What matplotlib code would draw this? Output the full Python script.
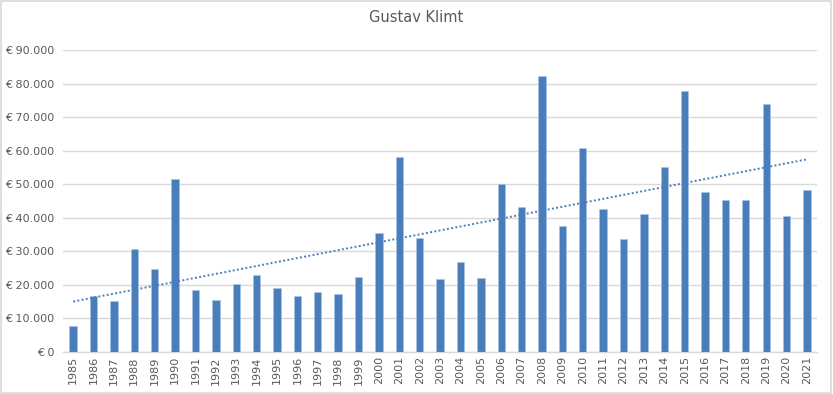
import numpy as np
import matplotlib.pyplot as plt
from matplotlib.ticker import FuncFormatter
import matplotlib.patches as patches

years = list(range(1985, 2022))
prices = [
    7800, 16800, 15100, 30800, 24600, 51700, 18400, 15600, 20200, 22900,
    19000, 16800, 17900, 17200, 22300, 35600, 58200, 33900, 21800, 26700,
    22200, 50200, 43100, 82400, 37700, 60800, 42500, 33600, 41100, 55100,
    77900, 47700, 45200, 45200, 73900, 40400, 48300,
]
title = "Gustav Klimt"

bar_color = "#4A7EBB"
grid_color = "#D9D9D9"
text_color = "#595959"


def euro(v, pos):
    # Excel-achtige notatie: € 90.000
    return "€ " + f"{int(v):,}".replace(",", ".")


fig = plt.figure(figsize=(8.33, 3.94), dpi=100)
ax = fig.add_axes([0.0756, 0.1066, 0.9054, 0.7664])

x = np.arange(len(years))
ax.bar(x, prices, width=0.36, color=bar_color, edgecolor="#A9C4E8", linewidth=0.4, zorder=3)

# lineaire trendlijn
coef = np.polyfit(x, prices, 1)
trend = np.polyval(coef, x)
ax.plot(x, trend, linestyle=(0, (1, 1.2)), color=bar_color, linewidth=1.4, zorder=4)

ax.set_xlim(-0.5, len(years) - 0.5)
ax.set_ylim(0, 90000)
ax.set_yticks(range(0, 90001, 10000))
ax.yaxis.set_major_formatter(FuncFormatter(euro))
ax.set_xticks(x)
ax.set_xticklabels([str(y) for y in years], rotation=90)
ax.tick_params(axis="both", length=0, labelsize=8, colors=text_color)
ax.tick_params(axis="y", pad=6)
ax.tick_params(axis="x", pad=3)

ax.grid(axis="y", color=grid_color, linewidth=1, zorder=0)
for side in ["top", "right", "left"]:
    ax.spines[side].set_visible(False)
ax.spines["bottom"].set_color(grid_color)
ax.spines["bottom"].set_linewidth(1)

fig.text(0.5, 0.956, title, ha="center", va="center", fontsize=10.5, color=text_color)

# kader rond de grafiek
fig.patches.append(
    patches.Rectangle((0.001, 0.002), 0.997, 0.995, transform=fig.transFigure,
                      fill=False, edgecolor="#D9D9D9", linewidth=1.2)
)

fig.savefig("out.png", dpi=100)
